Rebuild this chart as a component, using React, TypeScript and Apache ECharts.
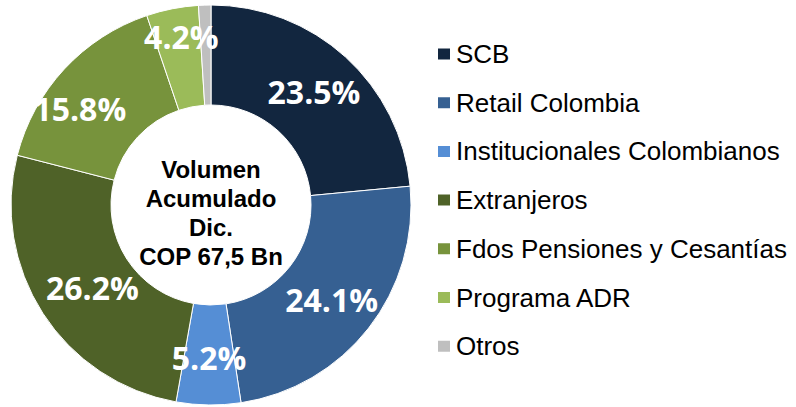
import React, { useEffect, useRef } from "react";
import * as echarts from "echarts";

const categories = [
  "SCB",
  "Retail Colombia",
  "Institucionales Colombianos",
  "Extranjeros",
  "Fdos Pensiones y Cesantías",
  "Programa ADR",
  "Otros",
];
const values = [23.5, 24.1, 5.2, 26.2, 15.8, 4.2, 1.0];
const colors = ["#12263F", "#366092", "#558ED5", "#4F6228", "#77933C", "#9BBB59", "#BFBFBF"];
const centerLines = ["Volumen", "Acumulado", "Dic.", "COP 67,5 Bn"];

export default function App() {
  const ref = useRef<HTMLDivElement>(null);
  useEffect(() => {
    if (!ref.current) return;
    const chart = echarts.init(ref.current, null, { renderer: "svg" });
    const labelShift: Record<number, { dx: number; dy: number }> = {
      3: { dx: 10, dy: 0 },
      4: { dx: -19, dy: 8 },
      5: { dx: 0, dy: -18 },
    };
    chart.setOption({
      animation: false,
      backgroundColor: "#ffffff",
      legend: {
        orient: "vertical",
        left: 436,
        top: 39,
        padding: 0,
        itemWidth: 14,
        itemHeight: 13,
        itemGap: 18.7,
        icon: "rect",
        selectedMode: false,
        data: categories,
        textStyle: {
          fontFamily: "Arial",
          fontSize: 26,
          lineHeight: 30,
          color: "#000000",
        },
      },
      graphic: [
        {
          type: "text",
          x: 211,
          y: 213,
          style: {
            text: centerLines.join("\n"),
            fill: "#000000",
            fontFamily: "Arial",
            fontWeight: "bold",
            fontSize: 24,
            lineHeight: 29,
            align: "center",
            verticalAlign: "middle",
          },
        },
      ],
      series: [
        {
          type: "pie",
          center: [211, 205],
          radius: [100, 200],
          startAngle: 90,
          clockwise: true,
          avoidLabelOverlap: false,
          itemStyle: { borderColor: "#ffffff", borderWidth: 1 },
          label: {
            show: true,
            position: "inside",
            formatter: (p: any) => `${p.value.toFixed(1)}%`,
            color: "#ffffff",
            fontFamily: "Open Sans",
            fontWeight: "bold",
            fontSize: 32,
          },
          labelLine: { show: false },
          labelLayout: (params: any) => labelShift[params.dataIndex] || {},
          emphasis: { disabled: true },
          data: categories.map((name, i) => ({
            name,
            value: values[i],
            itemStyle: { color: colors[i] },
            label: i === 6 ? { show: false } : undefined,
          })),
        },
      ],
    });
    return () => chart.dispose();
  }, []);
  return (
    <div
      ref={ref}
      style={{ position: "fixed", left: 0, top: 0, width: 796, height: 407 }}
    />
  );
}
